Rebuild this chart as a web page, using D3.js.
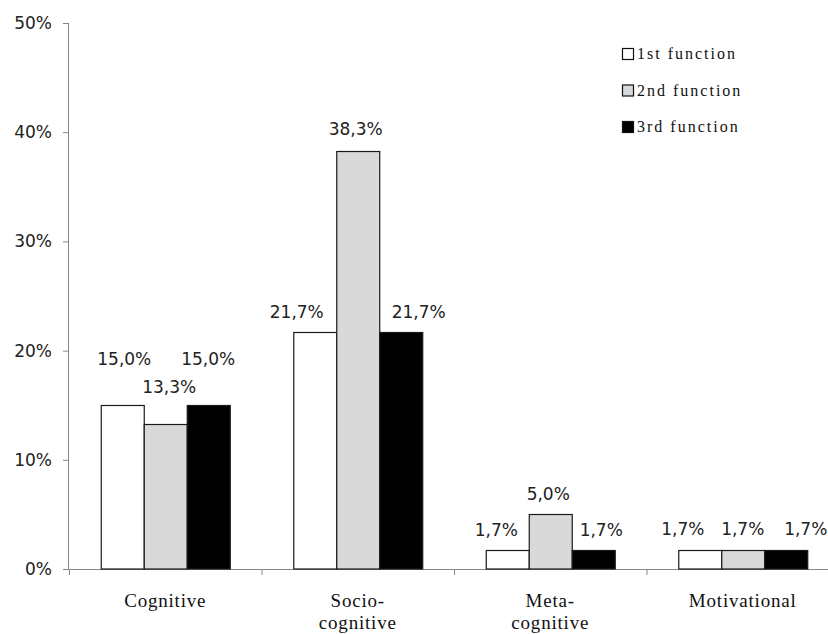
<!DOCTYPE html>
<html>
<head>
<meta charset="utf-8">
<script src="https://cdn.jsdelivr.net/npm/d3@7"></script>
<style>
  html, body { margin: 0; padding: 0; background: #fff; }
  svg { display: block; }
</style>
</head>
<body>
<svg id="chart" width="828" height="634"></svg>
<script>
// Category labels (each entry is a list of lines)
const categories = [["Cognitive"], ["Socio-", "cognitive"], ["Meta-", "cognitive"], ["Motivational"]];
// Series names and percentages per category
const seriesNames = ["1st function", "2nd function", "3rd function"];
const firstFunction  = [15.0, 21.7, 1.7, 1.7];
const secondFunction = [13.3, 38.3, 5.0, 1.7];
const thirdFunction  = [15.0, 21.7, 1.7, 1.7];
const yTicks = [0, 10, 20, 30, 40, 50];

// Styling
const fills = ["#ffffff", "#d9d9d9", "#000000"];
// Hand-placed value labels: [dx, dy] nudges per category, per series
const labelNudge = [
  [[2, -26], [4, -17], [0, -26]],
  [[-18, 0], [-2, -2], [18, 0]],
  [[-11, 0], [-2, 0], [8, 0]],
  [[-17, -1], [0, -1], [20, -1]]
];

const seriesValues = [firstFunction, secondFunction, thirdFunction];
const rows = categories.map((c, i) => ({
  key: i,
  lines: c,
  values: seriesValues.map((s, j) => ({ series: j, value: s[i] }))
}));

const svg = d3.select("#chart");
svg.append("rect").attr("width", 828).attr("height", 634).attr("fill", "#fff");

const plot = { left: 69, right: 839, top: 23, bottom: 569 };
const axisColor = "#868686";
const numFont = "'DejaVu Sans', Verdana, sans-serif";
const serifFont = "'Liberation Serif', 'Times New Roman', serif";

const y = d3.scaleLinear().domain([0, 50]).range([plot.bottom, plot.top]);
const x = d3.scaleBand().domain(rows.map(r => r.key)).range([plot.left, plot.right])
  .paddingInner(0.33).paddingOuter(0.165);
const xs = d3.scaleBand().domain([0, 1, 2]).range([0, x.bandwidth()]).padding(0);

// Y axis
const yAxis = svg.append("g")
  .attr("transform", `translate(${plot.left},0)`)
  .call(d3.axisLeft(y).tickValues(yTicks).tickSize(6).tickPadding(11)
    .tickFormat(d => d + "%"));
yAxis.select(".domain").attr("stroke", axisColor).attr("d", `M-0.5,${plot.top}V${plot.bottom}`);
yAxis.selectAll(".tick line").attr("stroke", axisColor);
yAxis.selectAll(".tick text")
  .attr("font-family", numFont).attr("font-size", 17).attr("fill", "#222");

// X axis: ticks mark the boundaries between categories
const xb = d3.scaleLinear().domain([0, categories.length]).range([plot.left, plot.right]);
const xAxis = svg.append("g")
  .attr("transform", `translate(0,${plot.bottom})`)
  .call(d3.axisBottom(xb).tickValues(d3.range(categories.length + 1)).tickSize(6).tickFormat(""));
xAxis.select(".domain").attr("stroke", axisColor).attr("d", `M${plot.left},0.5H${plot.right}`);
xAxis.selectAll(".tick line").attr("stroke", axisColor);

// Bars
const groups = svg.append("g").selectAll("g").data(rows).join("g")
  .attr("transform", d => `translate(${x(d.key)},0)`);

groups.selectAll("rect").data(d => d.values).join("rect")
  .attr("x", d => xs(d.series) + 0.5)
  .attr("y", d => Math.round(y(d.value)) + 0.5)
  .attr("width", xs.bandwidth())
  .attr("height", d => plot.bottom - Math.round(y(d.value)) - 0.5)
  .attr("fill", d => fills[d.series])
  .attr("stroke", "#1a1a1a")
  .attr("stroke-width", 1.2);

// Value labels
groups.each(function (row) {
  d3.select(this).selectAll("text.val").data(row.values).join("text")
    .attr("class", "val")
    .attr("x", d => xs(d.series) + xs.bandwidth() / 2 + labelNudge[row.key][d.series][0])
    .attr("y", d => y(d.value) - 14 + labelNudge[row.key][d.series][1])
    .attr("text-anchor", "middle")
    .attr("font-family", numFont).attr("font-size", 17).attr("fill", "#222")
    .text(d => d.value.toFixed(1).replace(".", ",") + "%");
});

// Category labels
const catText = svg.append("g").selectAll("text").data(rows).join("text")
  .attr("x", d => x(d.key) + x.bandwidth() / 2)
  .attr("y", 607)
  .attr("text-anchor", "middle")
  .attr("font-family", serifFont).attr("font-size", 19)
  .attr("letter-spacing", 0.8).attr("fill", "#111");
catText.selectAll("tspan").data(d => d.lines.map(l => ({ l, cx: x(d.key) + x.bandwidth() / 2 })))
  .join("tspan")
  .attr("x", d => d.cx)
  .attr("dy", (d, i) => i === 0 ? 0 : 22)
  .text(d => d.l);

// Legend
const legend = svg.append("g").attr("transform", "translate(622,48)");
const item = legend.selectAll("g").data(seriesNames).join("g")
  .attr("transform", (d, i) => `translate(0,${i * 36.5})`);
item.append("rect")
  .attr("x", 0.5).attr("y", 0.5).attr("width", 11).attr("height", 11)
  .attr("fill", (d, i) => fills[i]).attr("stroke", "#111").attr("stroke-width", 1.2);
item.append("text")
  .attr("x", 15).attr("y", 11)
  .attr("font-family", serifFont).attr("font-size", 16)
  .attr("letter-spacing", 2).attr("fill", "#111")
  .text(d => d);
</script>
</body>
</html>
